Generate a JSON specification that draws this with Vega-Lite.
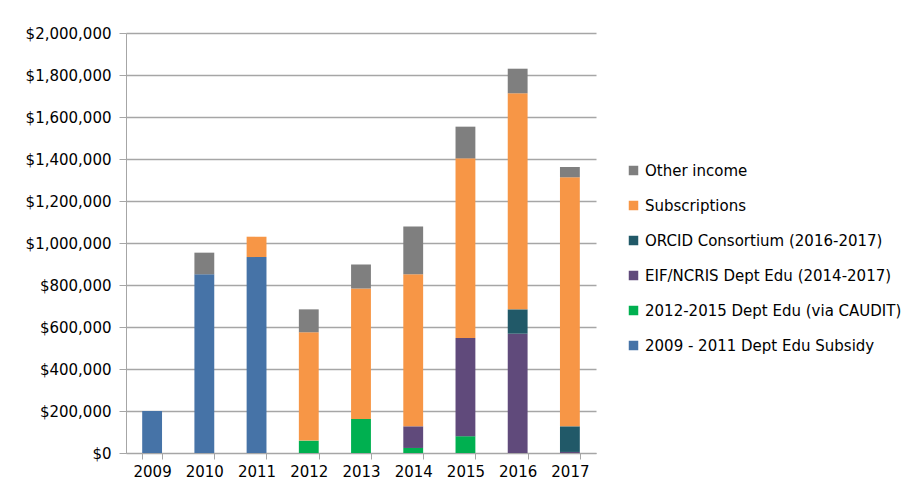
{
  "$schema": "https://vega.github.io/schema/vega-lite/v6.json",
  "autosize": "none",
  "width": 470,
  "height": 420,
  "padding": {"left": 126, "top": 33, "right": 318, "bottom": 40},
  "background": "white",
  "data": {
    "values": [
      {"year": "2009", "source": "2009 - 2011 Dept Edu  Subsidy", "o": 1, "value": 200000},
      {"year": "2010", "source": "2009 - 2011 Dept Edu  Subsidy", "o": 1, "value": 851000},
      {"year": "2010", "source": "Other income", "o": 6, "value": 103000},
      {"year": "2011", "source": "2009 - 2011 Dept Edu  Subsidy", "o": 1, "value": 933000},
      {"year": "2011", "source": "Subscriptions", "o": 5, "value": 97000},
      {"year": "2012", "source": "2012-2015 Dept Edu (via CAUDIT)", "o": 2, "value": 59000},
      {"year": "2012", "source": "Subscriptions", "o": 5, "value": 516000},
      {"year": "2012", "source": "Other income", "o": 6, "value": 109000},
      {"year": "2013", "source": "2012-2015 Dept Edu (via CAUDIT)", "o": 2, "value": 162000},
      {"year": "2013", "source": "Subscriptions", "o": 5, "value": 621000},
      {"year": "2013", "source": "Other income", "o": 6, "value": 115000},
      {"year": "2014", "source": "2012-2015 Dept Edu (via CAUDIT)", "o": 2, "value": 24000},
      {"year": "2014", "source": "EIF/NCRIS Dept Edu (2014-2017)", "o": 3, "value": 103000},
      {"year": "2014", "source": "Subscriptions", "o": 5, "value": 724000},
      {"year": "2014", "source": "Other income", "o": 6, "value": 227000},
      {"year": "2015", "source": "2012-2015 Dept Edu (via CAUDIT)", "o": 2, "value": 80000},
      {"year": "2015", "source": "EIF/NCRIS Dept Edu (2014-2017)", "o": 3, "value": 468000},
      {"year": "2015", "source": "Subscriptions", "o": 5, "value": 855000},
      {"year": "2015", "source": "Other income", "o": 6, "value": 151000},
      {"year": "2016", "source": "EIF/NCRIS Dept Edu (2014-2017)", "o": 3, "value": 568000},
      {"year": "2016", "source": "ORCID Consortium (2016-2017)", "o": 4, "value": 116000},
      {"year": "2016", "source": "Subscriptions", "o": 5, "value": 1029000},
      {"year": "2016", "source": "Other income", "o": 6, "value": 117000},
      {"year": "2017", "source": "EIF/NCRIS Dept Edu (2014-2017)", "o": 3, "value": 5000},
      {"year": "2017", "source": "ORCID Consortium (2016-2017)", "o": 4, "value": 122000},
      {"year": "2017", "source": "Subscriptions", "o": 5, "value": 1186000},
      {"year": "2017", "source": "Other income", "o": 6, "value": 49000}
    ]
  },
  "mark": {"type": "bar"},
  "encoding": {
    "x": {
      "field": "year",
      "type": "nominal",
      "title": null,
      "scale": {"paddingInner": 0.62, "paddingOuter": 0.31},
      "axis": {
        "labelAngle": 0,
        "tickBand": "extent",
        "tickSize": 6,
        "labelPadding": 5,
        "domainColor": "#A6A6A6",
        "tickColor": "#A6A6A6",
        "grid": false
      }
    },
    "y": {
      "field": "value",
      "type": "quantitative",
      "title": null,
      "stack": "zero",
      "scale": {"domain": [0, 2000000], "nice": false},
      "axis": {
        "values": [0, 200000, 400000, 600000, 800000, 1000000, 1200000, 1400000, 1600000, 1800000, 2000000],
        "format": "$,.0f",
        "tickSize": 7,
        "labelPadding": 8,
        "domain": true,
        "domainColor": "#A6A6A6",
        "tickColor": "#A6A6A6",
        "gridColor": "#A6A6A6",
        "gridWidth": 1.5
      }
    },
    "color": {
      "field": "source",
      "type": "nominal",
      "title": null,
      "scale": {
        "domain": ["Other income", "Subscriptions", "ORCID Consortium (2016-2017)", "EIF/NCRIS Dept Edu (2014-2017)", "2012-2015 Dept Edu (via CAUDIT)", "2009 - 2011 Dept Edu  Subsidy"],
        "range": ["#7F7F7F", "#F79646", "#215968", "#604A7B", "#00B050", "#4673A7"]
      },
      "legend": {
        "orient": "none",
        "legendX": 500,
        "legendY": 130,
        "symbolType": "square",
        "symbolSize": 90,
        "symbolStrokeWidth": 0,
        "rowPadding": 19,
        "labelFontSize": 15,
        "labelFont": "DejaVu Sans",
        "labelColor": "#000000",
        "labelOffset": 4,
        "labelLimit": 400
      }
    },
    "order": {"field": "o", "type": "quantitative"}
  },
  "config": {
    "view": {"stroke": null},
    "axis": {
      "labelFont": "DejaVu Sans",
      "labelFontSize": 15,
      "labelColor": "#000000"
    }
  }
}
